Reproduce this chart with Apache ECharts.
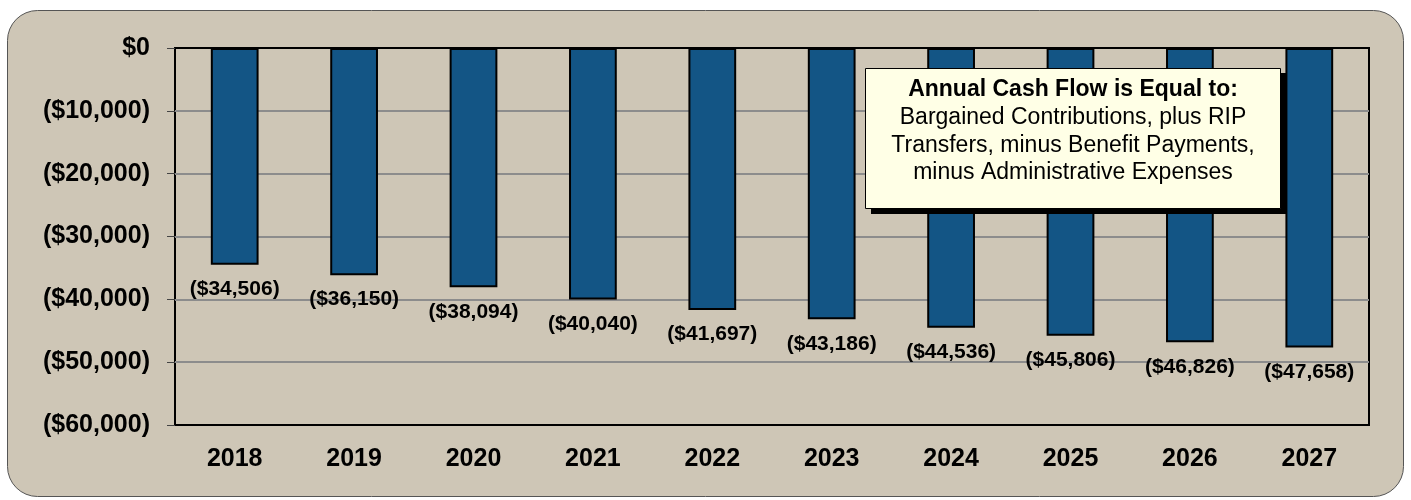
<!DOCTYPE html>
<html>
<head>
<meta charset="utf-8">
<script src="https://cdn.jsdelivr.net/npm/echarts@6/dist/echarts.min.js"></script>
<style>
  html, body { margin: 0; padding: 0; background: #fff; }
  #chart { width: 1411px; height: 500px; }
</style>
</head>
<body>
<div id="chart"></div>
<script>
const years = ["2018", "2019", "2020", "2021", "2022", "2023", "2024", "2025", "2026", "2027"];
const cashFlow = [-34506, -36150, -38094, -40040, -41697, -43186, -44536, -45806, -46826, -47658];
const noteTitle = "Annual Cash Flow is Equal to:";
const noteLines = [
  "Bargained Contributions, plus RIP",
  "Transfers, minus Benefit Payments,",
  "minus Administrative Expenses"
];

const fmt = (v) => {
  const s = Math.abs(v).toLocaleString("en-US");
  return v < 0 ? "($" + s + ")" : "$" + s;
};

const myChart = echarts.init(document.getElementById("chart"));

const option = {
  backgroundColor: "#ffffff",
  animation: false,
  textStyle: { fontFamily: "Liberation Sans, Arial, sans-serif" },
  graphic: [
    {
      type: "rect",
      z: -10,
      shape: { x: 7.5, y: 10.5, width: 1396, height: 486, r: 30 },
      style: { fill: "#cec6b6", stroke: "#555", lineWidth: 1 }
    },
    {
      type: "rect",
      z: 100,
      shape: { x: 871, y: 73, width: 415, height: 141 },
      style: { fill: "#000" }
    },
    {
      type: "rect",
      z: 101,
      shape: { x: 865.5, y: 68.5, width: 415, height: 140 },
      style: { fill: "#ffffe6", stroke: "#000", lineWidth: 1 }
    },
    {
      type: "text",
      z: 102,
      x: 1073, y: 78,
      style: {
        text: noteTitle,
        align: "center",
        font: "bold 23px Liberation Sans, Arial, sans-serif",
        fill: "#000"
      }
    },
    {
      type: "text",
      z: 102,
      x: 1073, y: 104,
      style: {
        text: noteLines.join("\n"),
        align: "center",
        lineHeight: 27.5,
        font: "23px Liberation Sans, Arial, sans-serif",
        fill: "#000"
      }
    }
  ],
  grid: {
    left: 175,
    right: 42,
    top: 48,
    bottom: 75,
    show: true,
    borderColor: "#000",
    borderWidth: 2,
    backgroundColor: "transparent"
  },
  xAxis: {
    type: "category",
    data: years,
    position: "bottom",
    axisLine: { show: false },
    axisTick: { show: false },
    axisLabel: {
      color: "#000",
      fontSize: 25,
      fontWeight: "bold",
      margin: 22
    }
  },
  yAxis: {
    type: "value",
    min: -60000,
    max: 0,
    interval: 10000,
    axisLine: { show: false },
    axisTick: { show: true, length: 8, lineStyle: { color: "#444" } },
    axisLabel: {
      color: "#000",
      fontSize: 25,
      fontWeight: "bold",
      margin: 25,
      formatter: fmt
    },
    splitLine: {
      showMinLine: false,
      showMaxLine: false,
      lineStyle: { color: "#8c8c8c", width: 2 }
    }
  },
  series: [
    {
      type: "bar",
      data: cashFlow,
      barWidth: "40%",
      itemStyle: { color: "#135585", borderColor: "#000", borderWidth: 2 },
      label: {
        show: true,
        position: "bottom",
        distance: 14,
        color: "#000",
        fontSize: 21,
        fontWeight: "bold",
        formatter: (p) => fmt(p.value)
      }
    }
  ]
};

option && myChart.setOption(option);
</script>
</body>
</html>
